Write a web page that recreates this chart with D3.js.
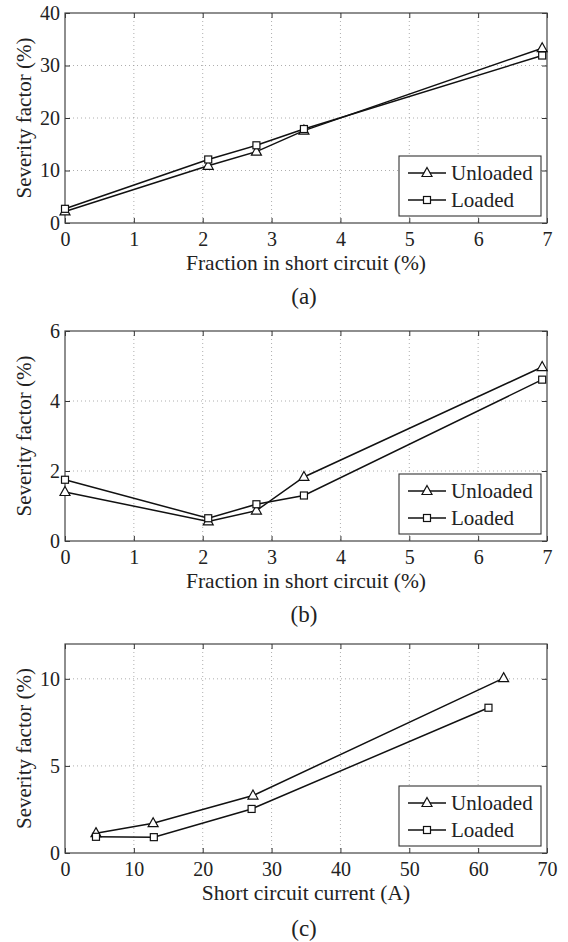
<!DOCTYPE html>
<html>
<head>
<meta charset="utf-8">
<script src="https://cdn.jsdelivr.net/npm/d3@7"></script>
<style>
  body { margin: 0; background: #fff; }
  svg text { font-family: "Liberation Serif", "Times New Roman", Times, serif; }
</style>
</head>
<body>
<div id="chart"></div>
<script>
// Data
const fractionX = [0, 2.08, 2.78, 3.47, 6.93];
const unloadedA = [2.2, 10.9, 13.6, 17.6, 33.3];
const loadedA = [2.7, 12.1, 14.8, 17.9, 31.9];

const unloadedB = [1.40, 0.56, 0.87, 1.83, 4.97];
const loadedB = [1.75, 0.65, 1.05, 1.30, 4.61];

const currentUnloadedX = [4.5, 12.8, 27.3, 63.7];
const currentUnloaded = [1.14, 1.71, 3.30, 10.04];
const currentLoadedX = [4.5, 12.9, 27.1, 61.5];
const currentLoaded = [0.93, 0.91, 2.53, 8.34];

const xTicksFraction = [0, 1, 2, 3, 4, 5, 6, 7];
const xTicksCurrent = [0, 10, 20, 30, 40, 50, 60, 70];
const yTicksA = [0, 10, 20, 30, 40];
const yTicksB = [0, 2, 4, 6];
const yTicksC = [0, 5, 10];

const FONT = '"Liberation Serif", "Times New Roman", Times, serif';

const panels = [
  {
    top: 13, bottom: 223,
    xDomain: [0, 7], yDomain: [0, 40], xTicks: xTicksFraction, yTicks: yTicksA,
    xLabel: 'Fraction in short circuit (%)', caption: '(a)', captionY: 304,
    series: [
      { name: 'Unloaded', marker: 'triangle', xs: fractionX, ys: unloadedA },
      { name: 'Loaded', marker: 'square', xs: fractionX, ys: loadedA }
    ]
  },
  {
    top: 331, bottom: 541,
    xDomain: [0, 7], yDomain: [0, 6], xTicks: xTicksFraction, yTicks: yTicksB,
    xLabel: 'Fraction in short circuit (%)', caption: '(b)', captionY: 622,
    series: [
      { name: 'Unloaded', marker: 'triangle', xs: fractionX, ys: unloadedB },
      { name: 'Loaded', marker: 'square', xs: fractionX, ys: loadedB }
    ]
  },
  {
    top: 644, bottom: 853,
    xDomain: [0, 70], yDomain: [0, 12], xTicks: xTicksCurrent, yTicks: yTicksC,
    xLabel: 'Short circuit current (A)', caption: '(c)', captionY: 936,
    series: [
      { name: 'Unloaded', marker: 'triangle', xs: currentUnloadedX, ys: currentUnloaded },
      { name: 'Loaded', marker: 'square', xs: currentLoadedX, ys: currentLoaded }
    ]
  }
];

const W = 568, H = 942;
const left = 65, right = 547;

const svg = d3.select('#chart').append('svg')
  .attr('width', W).attr('height', H)
  .attr('viewBox', `0 0 ${W} ${H}`)
  .attr('font-family', FONT);

svg.append('rect').attr('width', W).attr('height', H).attr('fill', '#fff');

function drawMarker(g, type, x, y) {
  if (type === 'triangle') {
    g.append('path')
      .attr('d', `M${x},${y - 5.5}L${x + 5},${y + 3.5}L${x - 5},${y + 3.5}Z`)
      .attr('fill', '#fff').attr('stroke', '#111').attr('stroke-width', 1.2);
  } else {
    g.append('rect')
      .attr('x', x - 3.5).attr('y', y - 3.5).attr('width', 7).attr('height', 7)
      .attr('fill', '#fff').attr('stroke', '#111').attr('stroke-width', 1.2);
  }
}

panels.forEach(p => {
  const g = svg.append('g');
  const x = d3.scaleLinear().domain(p.xDomain).range([left, right]);
  const y = d3.scaleLinear().domain(p.yDomain).range([p.bottom, p.top]);
  const fmt = d3.format('d');

  // Grid
  const grid = g.append('g')
    .attr('stroke', '#999').attr('stroke-width', 0.8).attr('stroke-dasharray', '1,3');
  p.xTicks.slice(1, -1).forEach(t => {
    grid.append('line').attr('x1', x(t)).attr('x2', x(t)).attr('y1', p.top).attr('y2', p.bottom);
  });
  p.yTicks.forEach(t => {
    if (y(t) <= p.top + 0.5 || y(t) >= p.bottom - 0.5) return;
    grid.append('line').attr('x1', left).attr('x2', right).attr('y1', y(t)).attr('y2', y(t));
  });

  // Axes with inward ticks on all sides
  const axB = g.append('g').attr('transform', `translate(0,${p.bottom})`)
    .call(d3.axisBottom(x).tickValues(p.xTicks).tickFormat(fmt).tickSizeInner(-5).tickSizeOuter(0).tickPadding(9));
  const axT = g.append('g').attr('transform', `translate(0,${p.top})`)
    .call(d3.axisTop(x).tickValues(p.xTicks).tickSizeInner(-5).tickSizeOuter(0).tickFormat(''));
  const axL = g.append('g').attr('transform', `translate(${left},0)`)
    .call(d3.axisLeft(y).tickValues(p.yTicks).tickFormat(fmt).tickSizeInner(-5).tickSizeOuter(0).tickPadding(5));
  const axR = g.append('g').attr('transform', `translate(${right},0)`)
    .call(d3.axisRight(y).tickValues(p.yTicks).tickSizeInner(-5).tickSizeOuter(0).tickFormat(''));
  [axB, axT, axL, axR].forEach(a => {
    a.attr('font-family', FONT).attr('font-size', 20);
    a.select('.domain').remove();
    a.selectAll('line').attr('stroke', '#333').attr('stroke-width', 1);
    a.selectAll('text').attr('fill', '#222');
  });

  g.append('rect')
    .attr('x', left).attr('y', p.top).attr('width', right - left).attr('height', p.bottom - p.top)
    .attr('fill', 'none').attr('stroke', '#444').attr('stroke-width', 1.2);

  // Lines and markers
  const line = d3.line().x(d => x(d[0])).y(d => y(d[1]));
  p.series.forEach(s => {
    const pts = s.xs.map((v, i) => [v, s.ys[i]]);
    g.append('path').datum(pts)
      .attr('d', line).attr('fill', 'none').attr('stroke', '#111').attr('stroke-width', 1.5);
  });
  p.series.forEach(s => {
    s.xs.forEach((v, i) => drawMarker(g, s.marker, x(v), y(s.ys[i])));
  });

  // Legend
  const lgW = 142, lgH = 60;
  const lx = right - 6 - lgW, ly = p.bottom - 7 - lgH;
  const lg = g.append('g').attr('transform', `translate(${lx},${ly})`);
  lg.append('rect').attr('width', lgW).attr('height', lgH)
    .attr('fill', '#fff').attr('stroke', '#333').attr('stroke-width', 1.1);
  p.series.forEach((s, i) => {
    const yy = 17 + i * 27;
    lg.append('line').attr('x1', 9).attr('x2', 47).attr('y1', yy).attr('y2', yy)
      .attr('stroke', '#111').attr('stroke-width', 1.5);
    drawMarker(lg, s.marker, 28, yy);
    lg.append('text').attr('x', 52).attr('y', yy + 7)
      .attr('font-size', 21).attr('fill', '#222').text(s.name);
  });

  // Axis labels and caption
  g.append('text')
    .attr('x', (left + right) / 2).attr('y', p.bottom + 47)
    .attr('text-anchor', 'middle').attr('font-size', 21.5).attr('fill', '#222')
    .text(p.xLabel);
  g.append('text')
    .attr('transform', `translate(31,${(p.top + p.bottom) / 2}) rotate(-90)`)
    .attr('text-anchor', 'middle').attr('font-size', 21).attr('fill', '#222')
    .text('Severity factor (%)');
  g.append('text')
    .attr('x', 304).attr('y', p.captionY)
    .attr('text-anchor', 'middle').attr('font-size', 23).attr('fill', '#222')
    .text(p.caption);
});
</script>
</body>
</html>
